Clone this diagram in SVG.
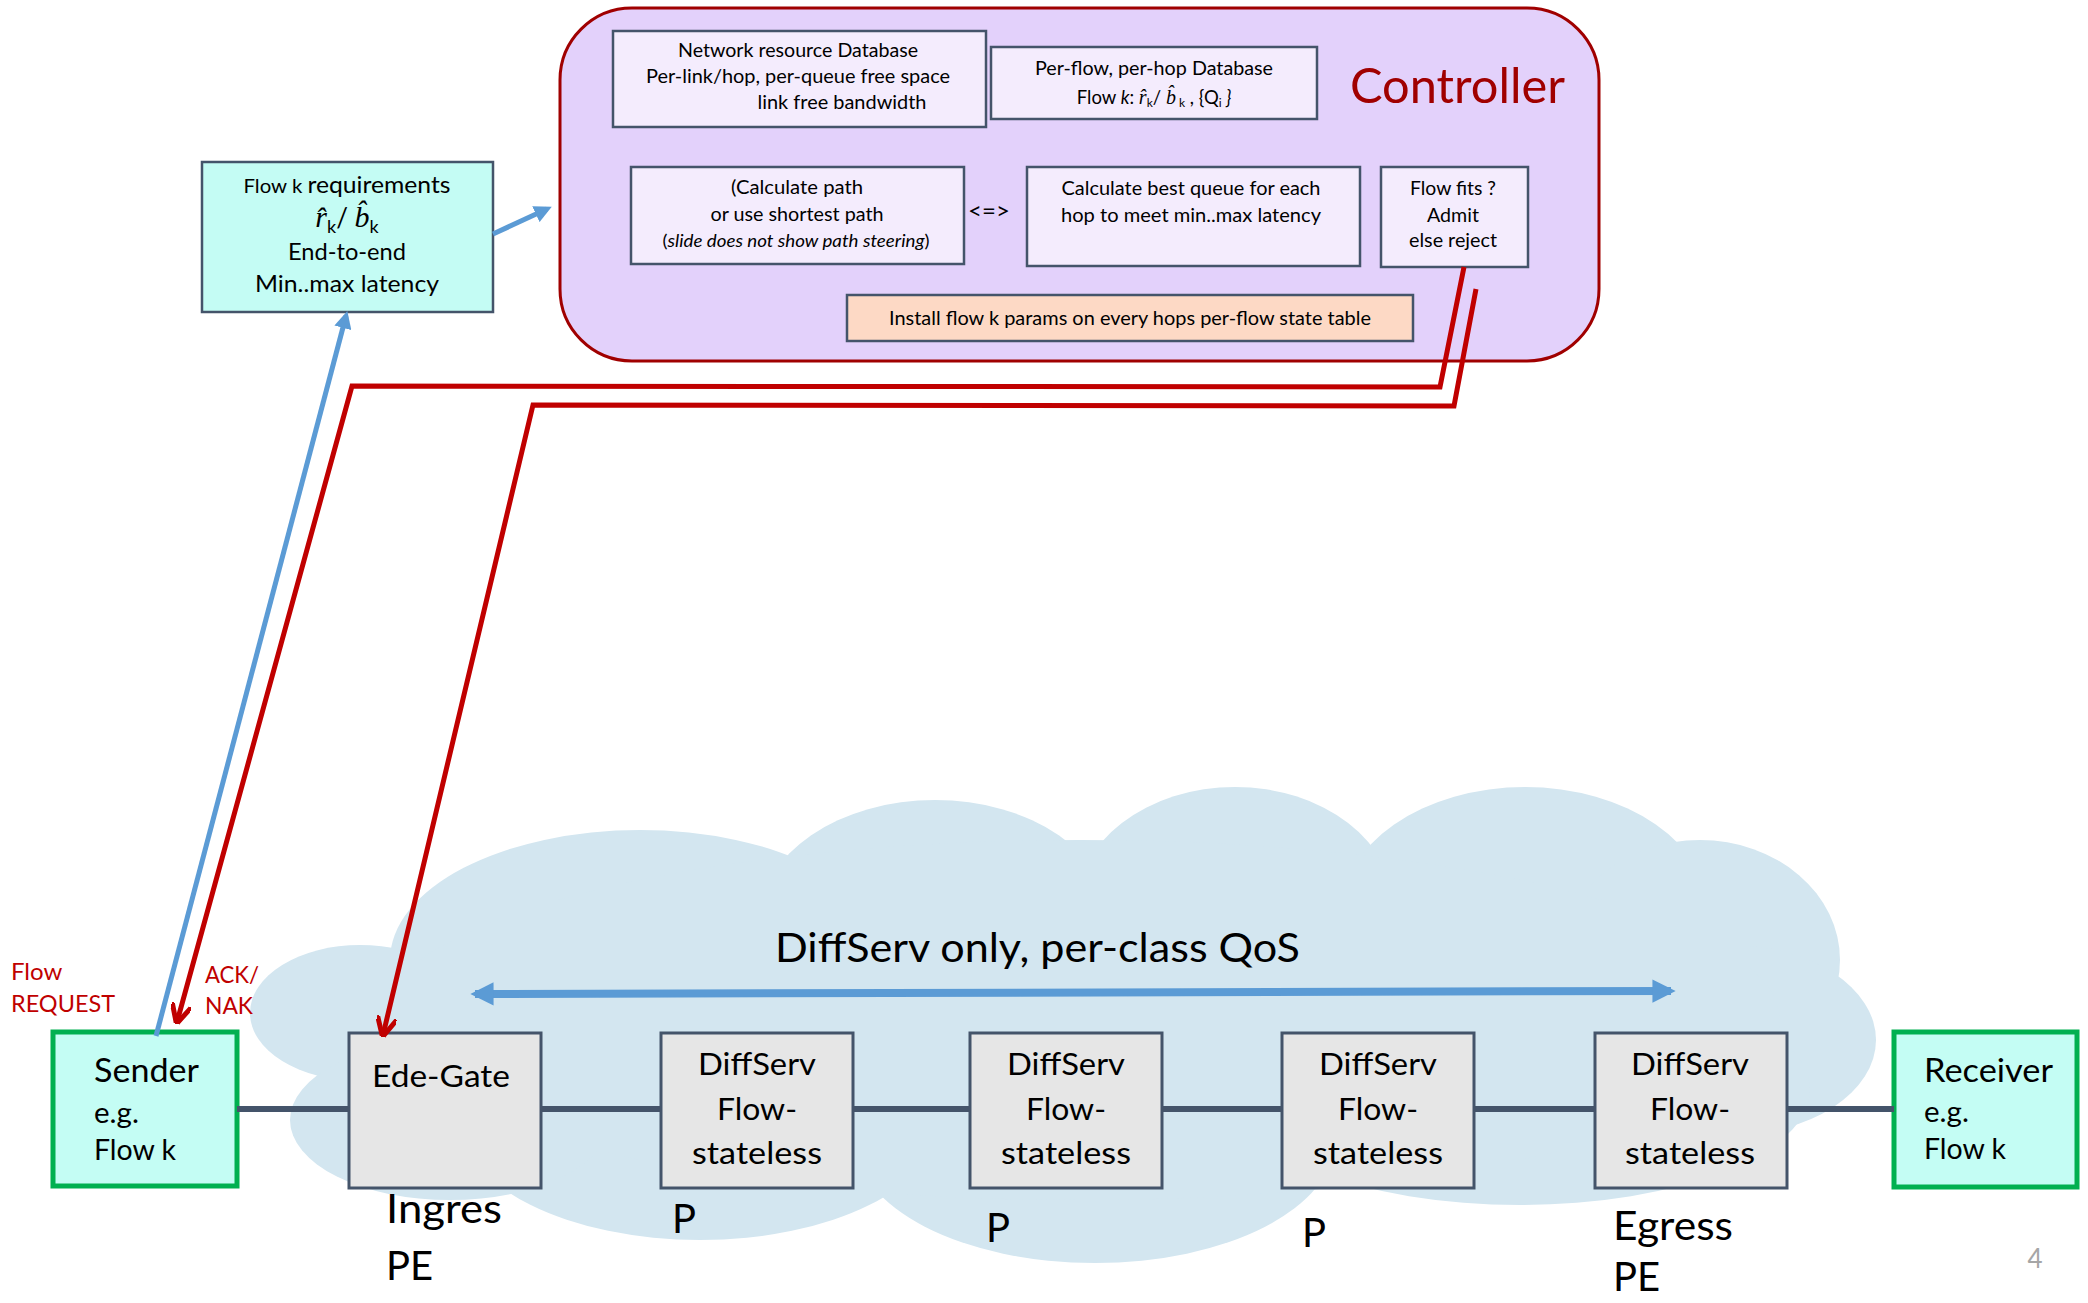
<svg xmlns="http://www.w3.org/2000/svg" width="2088" height="1303" viewBox="0 0 2088 1303">
<defs>
<style>
text{font-family:Lato,"Liberation Sans",sans-serif;fill:#000}
.math{font-family:"Liberation Serif","DejaVu Serif",serif;font-style:italic}
.inner{fill:#f4ecfd;stroke:#44546a;stroke-width:2.5}
.gray{fill:#e6e6e6;stroke:#44546a;stroke-width:3}
.host{fill:#c4fdf4;stroke:#00b050;stroke-width:5}
.cloud{fill:#d3e6f0}
.red{fill:none;stroke:#c00000;stroke-width:5;stroke-linejoin:miter}
.blue{fill:none;stroke:#5b9bd5;stroke-width:5}
.link{fill:none;stroke:#44546a;stroke-width:6}
.redtxt{fill:#c00000}
</style>
<marker id="openRed" viewBox="0 0 10 10" refX="9" refY="5" markerWidth="4" markerHeight="4" orient="auto">
<path d="M0,0 L10,5 L0,10" fill="none" stroke="#c00000" stroke-width="2.5"/>
</marker>
<marker id="triBlue" viewBox="0 0 10 10" refX="7" refY="5" markerWidth="3.5" markerHeight="3.5" orient="auto">
<path d="M0,0 L10,5 L0,10 z" fill="#5b9bd5"/>
</marker>
<marker id="triBlueBig" viewBox="0 0 10 10" refX="8" refY="5" markerWidth="2.9" markerHeight="2.9" orient="auto-start-reverse">
<path d="M0,0 L10,5 L0,10 z" fill="#5b9bd5"/>
</marker>
</defs>

<rect width="2088" height="1303" fill="#ffffff"/>

<g id="cloud">
<ellipse class="cloud" cx="360" cy="1013" rx="110" ry="68"/>
<ellipse class="cloud" cx="640" cy="960" rx="250" ry="130"/>
<ellipse class="cloud" cx="935" cy="920" rx="175" ry="120"/>
<ellipse class="cloud" cx="1235" cy="910" rx="160" ry="123"/>
<ellipse class="cloud" cx="1525" cy="915" rx="185" ry="128"/>
<ellipse class="cloud" cx="1700" cy="960" rx="140" ry="120"/>
<ellipse class="cloud" cx="1730" cy="1040" rx="146" ry="95"/>
<ellipse class="cloud" cx="1520" cy="1090" rx="290" ry="115"/>
<ellipse class="cloud" cx="1095" cy="1140" rx="240" ry="123"/>
<ellipse class="cloud" cx="700" cy="1120" rx="240" ry="120"/>
<ellipse class="cloud" cx="450" cy="1120" rx="160" ry="80"/>
<ellipse class="cloud" cx="1080" cy="1020" rx="700" ry="180"/>
<rect class="cloud" x="500" y="900" width="1250" height="250"/>
</g>

<g id="controller">
<rect x="560" y="8" width="1039" height="353" rx="72" ry="72" fill="#e3d1fb" stroke="#a00000" stroke-width="3"/>
<text x="1350" y="103" font-size="48" style="fill:#a00000" textLength="215" lengthAdjust="spacingAndGlyphs">Controller</text>
</g>

<g id="network-db">
<rect class="inner" x="613" y="31" width="373" height="96"/>
<text x="798" y="57" font-size="19.5" text-anchor="middle" textLength="240" lengthAdjust="spacingAndGlyphs">Network resource Database</text>
<text x="798" y="83" font-size="19.5" text-anchor="middle" textLength="304" lengthAdjust="spacingAndGlyphs">Per-link/hop, per-queue free space</text>
<text x="842" y="109" font-size="19.5" text-anchor="middle" textLength="169" lengthAdjust="spacingAndGlyphs">link free bandwidth</text>
</g>

<g id="perflow-db">
<rect class="inner" x="991" y="47" width="326" height="72"/>
<text x="1154" y="75" font-size="19.5" text-anchor="middle" textLength="238" lengthAdjust="spacingAndGlyphs">Per-flow, per-hop Database</text>
<text x="1154" y="104" font-size="18.5" text-anchor="middle">Flow <tspan font-style="italic">k</tspan>: <tspan class="math" font-size="20">r̂</tspan><tspan font-size="12" dy="3">k</tspan><tspan dy="-3">/ </tspan><tspan class="math" font-size="20">b̂</tspan><tspan font-size="12" dy="3"> k</tspan><tspan dy="-3"> , {Q</tspan><tspan font-size="12" dy="3">i</tspan><tspan dy="-3" font-style="italic"> }</tspan></text>
</g>

<g id="calc-path">
<rect class="inner" x="631" y="167" width="333" height="97"/>
<text x="797" y="194" font-size="19.5" text-anchor="middle" textLength="132" lengthAdjust="spacingAndGlyphs">(Calculate path</text>
<text x="797" y="221" font-size="19.5" text-anchor="middle" textLength="173" lengthAdjust="spacingAndGlyphs">or use shortest path</text>
<text x="796" y="247" font-size="17" text-anchor="middle" textLength="267" lengthAdjust="spacingAndGlyphs">(<tspan font-style="italic">slide does not show path steering</tspan>)</text>
</g>

<g id="equiv">
<text x="989" y="219" font-size="24" text-anchor="middle">&lt;=&gt;</text>
</g>

<g id="calc-queue">
<rect class="inner" x="1027" y="167" width="333" height="99"/>
<text x="1191" y="195" font-size="19.5" text-anchor="middle" textLength="259" lengthAdjust="spacingAndGlyphs">Calculate best queue for each</text>
<text x="1191" y="222" font-size="19.5" text-anchor="middle" textLength="260" lengthAdjust="spacingAndGlyphs">hop to meet min..max latency</text>
</g>

<g id="flow-fits">
<rect class="inner" x="1381" y="167" width="147" height="100"/>
<text x="1453" y="195" font-size="19.5" text-anchor="middle" textLength="86" lengthAdjust="spacingAndGlyphs">Flow fits ?</text>
<text x="1453" y="222" font-size="19.5" text-anchor="middle" textLength="52" lengthAdjust="spacingAndGlyphs">Admit</text>
<text x="1453" y="247" font-size="19.5" text-anchor="middle" textLength="88" lengthAdjust="spacingAndGlyphs">else reject</text>
</g>

<g id="install">
<rect x="847" y="295" width="566" height="46" fill="#fdd9c5" stroke="#44546a" stroke-width="2.5"/>
<text x="1130" y="325" font-size="18.5" text-anchor="middle" textLength="482" lengthAdjust="spacingAndGlyphs">Install flow k params on every hops per-flow state table</text>
</g>

<g id="flow-req">
<rect x="202" y="162" width="291" height="150" fill="#c4fcf4" stroke="#44546a" stroke-width="2.5"/>
<text x="347" y="193" text-anchor="middle" textLength="207" lengthAdjust="spacingAndGlyphs"><tspan font-size="19">Flow k </tspan><tspan font-size="23">requirements</tspan></text>
<text x="347" y="227" text-anchor="middle"><tspan class="math" font-size="30">r̂</tspan><tspan font-size="18" dy="6">k</tspan><tspan font-size="26" dy="-6">/ </tspan><tspan class="math" font-size="30">b̂</tspan><tspan font-size="18" dy="6">k</tspan></text>
<text x="347" y="260" font-size="22.5" text-anchor="middle" textLength="118" lengthAdjust="spacingAndGlyphs">End-to-end</text>
<text x="347" y="292" font-size="22.5" text-anchor="middle" textLength="184" lengthAdjust="spacingAndGlyphs">Min..max latency</text>
</g>

<g id="sender">
<rect class="host" x="53" y="1032" width="184" height="154"/>
<text x="94" y="1082" font-size="33" textLength="105" lengthAdjust="spacingAndGlyphs">Sender</text>
<text x="94" y="1123" font-size="29.5">e.g.</text>
<text x="94" y="1160" font-size="29.5" textLength="82" lengthAdjust="spacingAndGlyphs">Flow k</text>
</g>

<g id="receiver">
<rect class="host" x="1894" y="1032" width="183" height="155"/>
<text x="1924" y="1082" font-size="33" textLength="129" lengthAdjust="spacingAndGlyphs">Receiver</text>
<text x="1924" y="1122" font-size="29.5">e.g.</text>
<text x="1924" y="1159" font-size="29.5" textLength="82" lengthAdjust="spacingAndGlyphs">Flow k</text>
</g>

<g id="ede-gate">
<rect class="gray" x="349" y="1033" width="192" height="155"/>
<text x="441" y="1087" font-size="31" text-anchor="middle" textLength="138" lengthAdjust="spacingAndGlyphs">Ede-Gate</text>
<text x="386" y="1223" font-size="40" textLength="116" lengthAdjust="spacingAndGlyphs">Ingres</text>
<text x="386" y="1280" font-size="40">PE</text>
</g>

<g id="diffserv-1">
<rect class="gray" x="661" y="1033" width="192" height="155"/>
<text x="757" y="1075" font-size="31" text-anchor="middle" textLength="118" lengthAdjust="spacingAndGlyphs">DiffServ</text>
<text x="757" y="1120" font-size="31" text-anchor="middle" textLength="80" lengthAdjust="spacingAndGlyphs">Flow-</text>
<text x="757" y="1164" font-size="31" text-anchor="middle" textLength="130" lengthAdjust="spacingAndGlyphs">stateless</text>
<text x="672" y="1233" font-size="40">P</text>
</g>

<g id="diffserv-2">
<rect class="gray" x="970" y="1033" width="192" height="155"/>
<text x="1066" y="1075" font-size="31" text-anchor="middle" textLength="118" lengthAdjust="spacingAndGlyphs">DiffServ</text>
<text x="1066" y="1120" font-size="31" text-anchor="middle" textLength="80" lengthAdjust="spacingAndGlyphs">Flow-</text>
<text x="1066" y="1164" font-size="31" text-anchor="middle" textLength="130" lengthAdjust="spacingAndGlyphs">stateless</text>
<text x="986" y="1242" font-size="40">P</text>
</g>

<g id="diffserv-3">
<rect class="gray" x="1282" y="1033" width="192" height="155"/>
<text x="1378" y="1075" font-size="31" text-anchor="middle" textLength="118" lengthAdjust="spacingAndGlyphs">DiffServ</text>
<text x="1378" y="1120" font-size="31" text-anchor="middle" textLength="80" lengthAdjust="spacingAndGlyphs">Flow-</text>
<text x="1378" y="1164" font-size="31" text-anchor="middle" textLength="130" lengthAdjust="spacingAndGlyphs">stateless</text>
<text x="1302" y="1247" font-size="40">P</text>
</g>

<g id="diffserv-4">
<rect class="gray" x="1595" y="1033" width="192" height="155"/>
<text x="1690" y="1075" font-size="31" text-anchor="middle" textLength="118" lengthAdjust="spacingAndGlyphs">DiffServ</text>
<text x="1690" y="1120" font-size="31" text-anchor="middle" textLength="80" lengthAdjust="spacingAndGlyphs">Flow-</text>
<text x="1690" y="1164" font-size="31" text-anchor="middle" textLength="130" lengthAdjust="spacingAndGlyphs">stateless</text>
<text x="1613" y="1240" font-size="40" textLength="120" lengthAdjust="spacingAndGlyphs">Egress</text>
<text x="1613" y="1291" font-size="40">PE</text>
</g>

<g id="labels">
<text x="775" y="962" font-size="40" textLength="525" lengthAdjust="spacingAndGlyphs">DiffServ only, per-class QoS</text>
<text x="11" y="980" font-size="24" class="redtxt">Flow</text>
<text x="11" y="1012" font-size="24" class="redtxt" textLength="104" lengthAdjust="spacingAndGlyphs">REQUEST</text>
<text x="205" y="983" font-size="24" class="redtxt" textLength="54" lengthAdjust="spacingAndGlyphs">ACK/</text>
<text x="205" y="1014" font-size="24" class="redtxt" textLength="48" lengthAdjust="spacingAndGlyphs">NAK</text>
<text x="2035" y="1268" font-size="26" text-anchor="middle" style="fill:#a6a6a6">4</text>
</g>

<g id="connectors">
<line class="link" x1="237" y1="1109" x2="349" y2="1109"/>
<line class="link" x1="541" y1="1109" x2="661" y2="1109"/>
<line class="link" x1="853" y1="1109" x2="970" y2="1109"/>
<line class="link" x1="1162" y1="1109" x2="1282" y2="1109"/>
<line class="link" x1="1474" y1="1109" x2="1595" y2="1109"/>
<line class="link" x1="1787" y1="1109" x2="1894" y2="1109"/>
<line x1="475" y1="994" x2="1671" y2="991" stroke="#5b9bd5" stroke-width="8" marker-start="url(#triBlueBig)" marker-end="url(#triBlueBig)"/>
<polyline class="red" points="1464,267 1440,387 352,386 177,1022" marker-end="url(#openRed)"/>
<polyline class="red" points="1476,289 1454,406 533,405 383,1035" marker-end="url(#openRed)"/>
<line class="blue" x1="156" y1="1036" x2="346" y2="316" marker-end="url(#triBlue)"/>
<line class="blue" x1="493" y1="234" x2="547" y2="209" marker-end="url(#triBlue)"/>
</g>
</svg>
